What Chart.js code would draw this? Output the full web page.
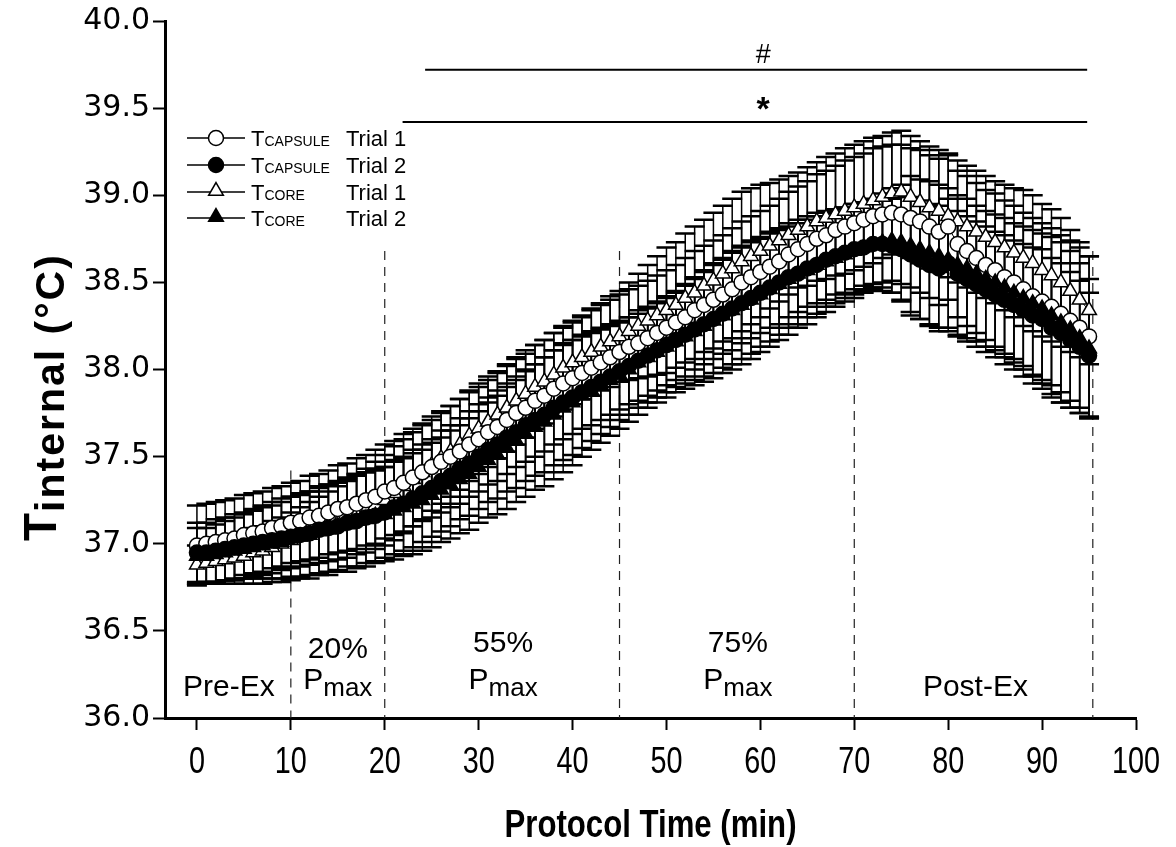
<!DOCTYPE html>
<html>
<head>
<meta charset="utf-8">
<script src="https://cdn.jsdelivr.net/npm/chart.js@4.4.1/dist/chart.umd.min.js"></script>
<style>
  html, body { margin: 0; padding: 0; background: #fff; }
  #wrap { width: 1176px; height: 847px; }
</style>
</head>
<body>
<div id="wrap"><canvas id="chart" width="1176" height="847"></canvas></div>
<script>
// Protocol time (min)
const minutes = [0,1,2,3,4,5,6,7,8,9,10,11,12,13,14,15,16,17,18,19,20,21,22,23,24,25,26,27,28,29,
  30,31,32,33,34,35,36,37,38,39,40,41,42,43,44,45,46,47,48,49,50,51,52,53,54,55,56,57,58,59,
  60,61,62,63,64,65,66,67,68,69,70,71,72,73,74,75,76,77,78,79,80,81,82,83,84,85,86,87,88,89,
  90,91,92,93,94,95];

// Means (°C)
const capsuleTrial1 = [36.99,37.00,37.01,37.02,37.03,37.05,37.06,37.07,37.09,37.10,
  37.12,37.13,37.15,37.16,37.18,37.20,37.21,37.23,37.25,37.27,
  37.30,37.32,37.35,37.38,37.41,37.44,37.47,37.50,37.53,37.57,
  37.60,37.64,37.67,37.71,37.75,37.78,37.82,37.85,37.89,37.92,
  37.95,37.98,38.01,38.04,38.07,38.10,38.13,38.15,38.18,38.21,
  38.24,38.27,38.30,38.34,38.37,38.40,38.43,38.46,38.50,38.53,
  38.56,38.59,38.62,38.66,38.69,38.72,38.75,38.77,38.80,38.82,
  38.84,38.86,38.88,38.89,38.90,38.89,38.87,38.85,38.82,38.79,
  38.82,38.72,38.68,38.64,38.60,38.57,38.53,38.50,38.46,38.42,
  38.39,38.36,38.32,38.28,38.24,38.19];
const capsuleTrial2 = [36.95,36.95,36.96,36.97,36.98,36.99,37.00,37.01,37.02,37.03,
  37.04,37.05,37.06,37.08,37.09,37.10,37.12,37.13,37.15,37.16,
  37.18,37.21,37.23,37.26,37.29,37.32,37.36,37.39,37.43,37.46,
  37.50,37.54,37.57,37.61,37.64,37.68,37.71,37.74,37.78,37.81,
  37.84,37.87,37.90,37.93,37.96,37.99,38.02,38.05,38.08,38.11,
  38.14,38.17,38.20,38.23,38.26,38.29,38.32,38.35,38.38,38.41,
  38.44,38.47,38.50,38.53,38.55,38.58,38.60,38.63,38.65,38.67,
  38.69,38.70,38.72,38.72,38.71,38.69,38.66,38.63,38.60,38.58,
  38.61,38.55,38.52,38.49,38.46,38.43,38.40,38.37,38.34,38.31,
  38.29,38.24,38.21,38.17,38.13,38.08];
const coreTrial1 = [36.88,36.89,36.90,36.91,36.92,36.93,36.95,36.96,36.98,37.00,
  37.02,37.04,37.06,37.08,37.10,37.12,37.14,37.17,37.19,37.22,
  37.25,37.29,37.33,37.37,37.41,37.45,37.49,37.53,37.57,37.62,
  37.66,37.70,37.74,37.78,37.82,37.86,37.90,37.93,37.97,38.01,
  38.04,38.07,38.10,38.13,38.16,38.19,38.22,38.25,38.28,38.31,
  38.34,38.37,38.41,38.44,38.48,38.51,38.55,38.58,38.62,38.65,
  38.68,38.71,38.74,38.77,38.80,38.82,38.85,38.87,38.89,38.91,
  38.93,38.95,38.97,38.99,39.01,39.02,38.99,38.96,38.93,38.91,
  38.88,38.85,38.82,38.79,38.76,38.73,38.70,38.67,38.64,38.61,
  38.57,38.54,38.50,38.45,38.40,38.34];
const coreTrial2 = [36.93,36.93,36.94,36.95,36.96,36.97,36.98,36.99,37.00,37.01,
  37.03,37.04,37.05,37.07,37.08,37.10,37.11,37.13,37.14,37.16,
  37.17,37.19,37.21,37.23,37.25,37.28,37.31,37.34,37.37,37.40,
  37.44,37.48,37.51,37.55,37.59,37.63,37.67,37.70,37.74,37.78,
  37.81,37.85,37.88,37.91,37.94,37.97,38.00,38.04,38.07,38.10,
  38.13,38.16,38.19,38.22,38.25,38.28,38.31,38.34,38.37,38.40,
  38.43,38.46,38.49,38.52,38.55,38.57,38.60,38.62,38.64,38.66,
  38.68,38.70,38.72,38.73,38.74,38.73,38.71,38.69,38.67,38.65,
  38.63,38.60,38.58,38.55,38.52,38.50,38.47,38.44,38.41,38.38,
  38.35,38.31,38.27,38.23,38.18,38.12];

// Standard deviations (°C)
const capsuleTrial1Sd = [0.23,0.23,0.23,0.23,0.23,0.23,0.23,0.23,0.23,0.23,
  0.23,0.23,0.24,0.24,0.24,0.25,0.25,0.26,0.26,0.27,
  0.27,0.27,0.28,0.28,0.28,0.29,0.29,0.29,0.30,0.30,
  0.30,0.30,0.31,0.31,0.31,0.31,0.32,0.32,0.32,0.32,
  0.32,0.32,0.33,0.33,0.33,0.33,0.33,0.33,0.33,0.33,
  0.33,0.33,0.34,0.34,0.34,0.34,0.34,0.35,0.35,0.35,
  0.35,0.35,0.36,0.36,0.36,0.36,0.37,0.37,0.37,0.38,
  0.38,0.38,0.39,0.39,0.39,0.40,0.40,0.41,0.41,0.42,
  0.42,0.42,0.43,0.43,0.43,0.44,0.44,0.44,0.44,0.45,
  0.45,0.45,0.45,0.46,0.46,0.46];
const capsuleTrial2Sd = [0.17,0.17,0.18,0.18,0.19,0.19,0.20,0.21,0.22,0.23,
  0.23,0.24,0.24,0.25,0.25,0.25,0.25,0.26,0.26,0.26,
  0.26,0.27,0.27,0.28,0.28,0.28,0.29,0.29,0.29,0.30,
  0.30,0.30,0.31,0.31,0.32,0.32,0.32,0.33,0.33,0.33,
  0.33,0.32,0.31,0.30,0.29,0.28,0.28,0.27,0.27,0.27,
  0.27,0.27,0.28,0.29,0.30,0.31,0.31,0.32,0.32,0.32,
  0.31,0.31,0.30,0.29,0.29,0.28,0.28,0.27,0.27,0.26,
  0.26,0.25,0.25,0.25,0.27,0.30,0.33,0.34,0.35,0.36,
  0.37,0.36,0.36,0.36,0.36,0.36,0.37,0.37,0.38,0.39,
  0.40,0.40,0.40,0.39,0.38,0.36];
const coreTrial1Sd = [0.11,0.11,0.12,0.12,0.13,0.13,0.14,0.14,0.15,0.15,
  0.16,0.17,0.18,0.19,0.20,0.21,0.22,0.23,0.24,0.25,
  0.26,0.27,0.27,0.27,0.27,0.26,0.26,0.26,0.26,0.26,
  0.26,0.26,0.25,0.25,0.25,0.25,0.24,0.24,0.24,0.24,
  0.24,0.24,0.25,0.25,0.26,0.26,0.28,0.30,0.32,0.34,
  0.36,0.36,0.37,0.38,0.38,0.39,0.39,0.40,0.40,0.39,
  0.38,0.36,0.35,0.34,0.33,0.34,0.34,0.35,0.35,0.36,
  0.36,0.36,0.36,0.35,0.35,0.35,0.35,0.35,0.35,0.35,
  0.35,0.35,0.35,0.35,0.35,0.35,0.36,0.37,0.39,0.39,
  0.38,0.38,0.37,0.35,0.33,0.31];
const coreTrial2Sd = [0.16,0.16,0.17,0.18,0.19,0.20,0.21,0.22,0.22,0.23,
  0.24,0.24,0.25,0.25,0.26,0.26,0.27,0.27,0.27,0.27,
  0.27,0.28,0.28,0.29,0.29,0.30,0.30,0.31,0.31,0.32,
  0.32,0.33,0.34,0.35,0.35,0.36,0.36,0.37,0.37,0.37,
  0.36,0.35,0.34,0.33,0.32,0.31,0.30,0.30,0.29,0.29,
  0.29,0.29,0.30,0.31,0.32,0.33,0.33,0.34,0.34,0.34,
  0.33,0.33,0.32,0.32,0.31,0.31,0.30,0.29,0.28,0.27,
  0.27,0.26,0.26,0.28,0.30,0.33,0.40,0.40,0.41,0.41,
  0.41,0.40,0.40,0.39,0.39,0.39,0.40,0.40,0.41,0.42,
  0.43,0.45,0.46,0.45,0.43,0.40];

// Axis ticks
const xTicks = [0,10,20,30,40,50,60,70,80,90,100];
const yTicks = [36.0,36.5,37.0,37.5,38.0,38.5,39.0,39.5,40.0];

// Phase boundaries (min) and phase labels
const phaseLines = [10, 20, 45, 70, 95.4];
const phaseLabels = ['Pre-Ex', '20%', '55%', '75%', 'Post-Ex'];

function points(values) {
  return minutes.map((m, i) => ({ x: m, y: values[i] }));
}

const series = [
  { label: 'TCAPSULE Trial 1', data: capsuleTrial1, sd: capsuleTrial1Sd, style: 'circle', fill: '#ffffff', order: 2 },
  { label: 'TCAPSULE Trial 2', data: capsuleTrial2, sd: capsuleTrial2Sd, style: 'circle', fill: '#000000', order: 0 },
  { label: 'TCORE Trial 1', data: coreTrial1, sd: coreTrial1Sd, style: 'triangle', fill: '#ffffff', order: 3 },
  { label: 'TCORE Trial 2', data: coreTrial2, sd: coreTrial2Sd, style: 'triangle', fill: '#000000', order: 1 }
];

// text squeezed horizontally (narrow face look)
function narrowText(ctx, text, x, y, squeeze) {
  ctx.save();
  ctx.translate(x, y);
  ctx.scale(squeeze, 1);
  ctx.fillText(text, 0, 0);
  ctx.restore();
}

// Error bars, phase lines, texts and legend
const decorations = {
  id: 'decorations',
  beforeDatasetsDraw(chart) {
    const ctx = chart.ctx;
    const xs = chart.scales.x, ys = chart.scales.y;
    ctx.save();
    // dashed phase boundaries
    ctx.strokeStyle = '#222';
    ctx.lineWidth = 1.2;
    ctx.setLineDash([9, 7]);
    phaseLines.forEach(t => {
      const px = xs.getPixelForValue(t);
      const top = t === 10 ? 37.42 : 38.68;
      ctx.beginPath();
      ctx.moveTo(px, ys.getPixelForValue(top));
      ctx.lineTo(px, ys.getPixelForValue(36));
      ctx.stroke();
    });
    ctx.setLineDash([]);
    // error bars (behind the symbols)
    ctx.strokeStyle = '#000';
    series.slice().sort((a, b) => b.order - a.order).forEach(s => {
      minutes.forEach((m, i) => {
        const px = xs.getPixelForValue(m);
        const hi = ys.getPixelForValue(s.data[i] + s.sd[i]);
        const lo = ys.getPixelForValue(s.data[i] - s.sd[i]);
        ctx.lineWidth = 1.5;
        ctx.beginPath();
        ctx.moveTo(px, hi);
        ctx.lineTo(px, lo);
        ctx.stroke();
        ctx.lineWidth = 2.5;
        ctx.beginPath();
        ctx.moveTo(px - 10, hi); ctx.lineTo(px + 10, hi);
        ctx.moveTo(px - 10, lo); ctx.lineTo(px + 10, lo);
        ctx.stroke();
      });
    });
    ctx.restore();
  },
  afterDraw(chart) {
    const ctx = chart.ctx;
    const xs = chart.scales.x, ys = chart.scales.y;
    const X = v => xs.getPixelForValue(v);
    const Y = v => ys.getPixelForValue(v);
    ctx.save();
    ctx.fillStyle = '#000';
    ctx.strokeStyle = '#000';

    // significance bars
    ctx.lineWidth = 2;
    ctx.beginPath();
    ctx.moveTo(X(24.3), Y(39.72)); ctx.lineTo(X(94.8), Y(39.72));
    ctx.moveTo(X(21.9), Y(39.42)); ctx.lineTo(X(94.8), Y(39.42));
    ctx.stroke();
    ctx.textAlign = 'center';
    ctx.textBaseline = 'alphabetic';
    ctx.font = '27px "Liberation Sans", Arial, sans-serif';
    ctx.fillText('#', X(60.3), Y(39.76));
    ctx.font = 'bold 34px "Liberation Sans", Arial, sans-serif';
    ctx.fillText('*', X(60.3), Y(39.43));

    // x tick labels (narrow)
    ctx.font = '36px "Liberation Sans", Arial, sans-serif';
    xTicks.forEach(v => narrowText(ctx, String(v), X(v), 773, 0.8));

    // phase labels
    const pmax = (cx, base) => {
      ctx.font = '30px "Liberation Sans", Arial, sans-serif';
      const wP = ctx.measureText('P').width;
      ctx.font = '26px "Liberation Sans", Arial, sans-serif';
      const wm = ctx.measureText('max').width;
      const left = cx - (wP + wm) / 2;
      ctx.textAlign = 'left';
      ctx.font = '30px "Liberation Sans", Arial, sans-serif';
      ctx.fillText('P', left, base);
      ctx.font = '26px "Liberation Sans", Arial, sans-serif';
      ctx.fillText('max', left + wP, base + 7);
      ctx.textAlign = 'center';
    };
    ctx.font = '30px "Liberation Sans", Arial, sans-serif';
    ctx.fillText(phaseLabels[0], X(3.4), 696);
    ctx.fillText(phaseLabels[1], X(15.0), 658);
    ctx.fillText(phaseLabels[2], X(32.6), 652);
    ctx.fillText(phaseLabels[3], X(57.6), 652);
    ctx.fillText(phaseLabels[4], X(82.9), 696);
    pmax(X(15.0), 689);
    pmax(X(32.6), 689);
    pmax(X(57.6), 689);

    // axis titles
    ctx.font = 'bold 38px "Liberation Sans", Arial, sans-serif';
    narrowText(ctx, 'Protocol Time (min)', (chart.chartArea.left + chart.chartArea.right) / 2, 837, 0.82);

    ctx.save();
    ctx.translate(56, 541);
    ctx.rotate(-Math.PI / 2);
    ctx.textAlign = 'left';
    ctx.font = 'bold 46px "Liberation Sans", Arial, sans-serif';
    ctx.fillText('T', 0, 0);
    const wT = ctx.measureText('T').width;
    ctx.font = 'bold 41px "Liberation Sans", Arial, sans-serif';
    ctx.letterSpacing = '2px';
    ctx.fillText('internal (°C)', wT + 1, 8);
    ctx.letterSpacing = '0px';
    ctx.restore();

    // legend
    const rowsY = [138, 165, 192, 218];
    series.forEach((s, i) => {
      const ry = rowsY[i];
      ctx.lineWidth = 1.5;
      ctx.beginPath();
      ctx.moveTo(187, ry); ctx.lineTo(245, ry);
      ctx.stroke();
      ctx.fillStyle = s.fill;
      Chart.helpers.drawPoint(ctx, {
        pointStyle: s.style, radius: s.style === 'triangle' ? 8.5 : 7.5,
        borderWidth: 1.5, rotation: 0
      }, 216, s.style === 'triangle' ? ry - 1 : ry);
      ctx.fillStyle = '#000';
      const parts = s.label.split(' ');
      ctx.textAlign = 'left';
      ctx.font = '22px "Liberation Sans", Arial, sans-serif';
      ctx.fillText('T', 251, ry + 8);
      const wt = ctx.measureText('T').width;
      ctx.font = '14px "Liberation Sans", Arial, sans-serif';
      ctx.fillText(parts[0].slice(1), 251 + wt, ry + 8);
      ctx.font = '22px "Liberation Sans", Arial, sans-serif';
      ctx.fillText(parts[1] + ' ' + parts[2], 346, ry + 8);
    });
    ctx.restore();
  }
};

const ctx = document.getElementById('chart').getContext('2d');
new Chart(ctx, {
  type: 'line',
  data: {
    datasets: series.map(s => ({
      label: s.label,
      data: points(s.data),
      order: s.order,
      showLine: true,
      borderColor: '#000',
      borderWidth: 1,
      pointStyle: s.style,
      pointRadius: s.style === 'triangle' ? 8.5 : 7.5,
      pointBackgroundColor: s.fill,
      pointBorderColor: '#000',
      pointBorderWidth: 1.5,
      tension: 0,
      clip: false
    }))
  },
  options: {
    responsive: false,
    animation: false,
    devicePixelRatio: 1,
    layout: { padding: { top: 15, right: 40, left: 0, bottom: 0 } },
    plugins: { legend: { display: false }, tooltip: { enabled: false } },
    scales: {
      x: {
        type: 'linear',
        min: -3.4,
        max: 100,
        afterBuildTicks: scale => { scale.ticks = xTicks.map(v => ({ value: v })); },
        afterFit: scale => { scale.height = 129; },
        ticks: { display: false },
        grid: { drawOnChartArea: false, drawTicks: true, tickLength: 12, tickWidth: 2, tickColor: '#000' },
        border: { display: true, width: 3, color: '#000' }
      },
      y: {
        type: 'linear',
        min: 36,
        max: 40,
        afterBuildTicks: scale => { scale.ticks = yTicks.map(v => ({ value: v })); },
        afterFit: scale => { scale.width = 165; },
        ticks: {
          color: '#000',
          padding: 3,
          callback: v => v.toFixed(1),
          font: { family: '"DejaVu Sans", sans-serif', size: 30 }
        },
        grid: { drawOnChartArea: false, drawTicks: true, tickLength: 12, tickWidth: 2, tickColor: '#000' },
        border: { display: true, width: 3, color: '#000' }
      }
    }
  },
  plugins: [decorations]
});
</script>
</body>
</html>
